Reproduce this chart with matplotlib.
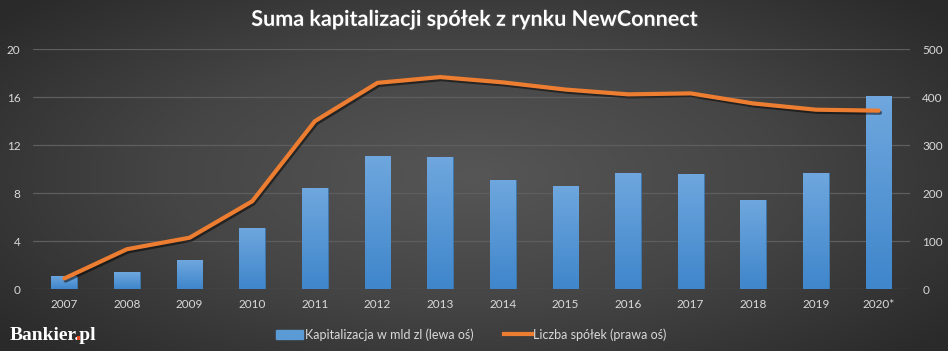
import numpy as np
import matplotlib
matplotlib.use("Agg")
import matplotlib.pyplot as plt
import matplotlib.patheffects as pe
from matplotlib.lines import Line2D
from matplotlib.patches import Patch, Rectangle

plt.rcParams["font.family"] = ["Lato", "DejaVu Sans"]

years = ["2007", "2008", "2009", "2010", "2011", "2012", "2013",
         "2014", "2015", "2016", "2017", "2018", "2019", "2020*"]
kapitalizacja = [1.1, 1.4, 2.4, 5.1, 8.4, 11.1, 11.0,
                 9.1, 8.6, 9.7, 9.6, 7.4, 9.7, 16.1]
liczba_spolek = [22, 83, 107, 183, 350, 430, 442,
                 431, 416, 406, 408, 387, 374, 372]

left_ticks = [0, 4, 8, 12, 16, 20]
right_ticks = [0, 100, 200, 300, 400, 500]

W, H = 948, 351
fig = plt.figure(figsize=(W / 100, H / 100), dpi=100)

# tlo z gradientem
bg = fig.add_axes([0, 0, 1, 1], zorder=-10)
yy, xx = np.mgrid[-1:1:200j, -1:1:400j]
r = np.sqrt((xx * 0.85) ** 2 + (yy * 0.75) ** 2)
bg.imshow(r, cmap=matplotlib.colors.LinearSegmentedColormap.from_list(
    "bg", ["#565656", "#454545", "#2a2a2a"]), aspect="auto",
    extent=[0, 1, 0, 1], vmin=0, vmax=1.1)
bg.axis("off")

ax = fig.add_axes([0.0348, 0.1766, 0.925, 0.683])
ax.set_facecolor("none")
x = np.arange(len(years))

bars = ax.bar(x, kapitalizacja, width=0.41, color="#5b9bd5",
              edgecolor="#3c78b0", linewidth=0.6, zorder=3)
grad = np.linspace(1, 0, 100).reshape(-1, 1)
cmap_bar = matplotlib.colors.LinearSegmentedColormap.from_list(
    "bar", ["#3f86cb", "#6fa7de"])
for b in bars:
    bx, by = b.get_x(), b.get_y()
    im = ax.imshow(grad, cmap=cmap_bar, aspect="auto", zorder=3.5,
                   extent=[bx, bx + b.get_width(), by, by + b.get_height()])
    im.set_clip_path(b)

ax.set_xlim(-0.5, len(years) - 0.5)
ax.set_ylim(0, 20)
ax.set_yticks(left_ticks)
ax.set_xticks(x)
ax.set_xticklabels(years)
ax.grid(axis="y", color="#5e5e5e", linewidth=0.9, zorder=0)
for s in ax.spines.values():
    s.set_visible(False)
ax.tick_params(colors="#d9d9d9", labelsize=8.5, length=0)
ax.tick_params(axis="y", pad=9)
ax.tick_params(axis="x", pad=7)

ax2 = ax.twinx()
ax2.set_ylim(0, 500)
ax2.set_yticks(right_ticks)
ax2.plot(x, liczba_spolek, color="#ed7d31", linewidth=3.0,
         solid_capstyle="round", zorder=5,
         path_effects=[pe.SimpleLineShadow(offset=(1, -1.5), alpha=0.5),
                       pe.Normal()])
for s in ax2.spines.values():
    s.set_visible(False)
ax2.tick_params(colors="#d9d9d9", labelsize=8.5, length=0, pad=9)

fig.text(0.5, 0.945, "Suma kapitalizacji spółek z rynku NewConnect",
         ha="center", va="center", color="white", fontsize=15.5,
         fontweight="bold",
         path_effects=[pe.withSimplePatchShadow(offset=(1, -1), alpha=0.8)])

handles = [Patch(facecolor="#5b9bd5", edgecolor="#5b9bd5"),
           Line2D([0], [0], color="#ed7d31", linewidth=3)]
fig.legend(handles, ["Kapitalizacja w mld zl (lewa oś)",
                     "Liczba spółek (prawa oś)"],
           loc="center", bbox_to_anchor=(0.497, 0.047), ncol=2, frameon=False,
           fontsize=9, labelcolor="#d9d9d9", handlelength=2.2,
           handletextpad=0.1, columnspacing=2.5)

# logo Bankier.pl, kropka na pomaranczowo
logo_kw = dict(fontsize=14, fontweight="bold", family="Liberation Serif",
               va="baseline", ha="left")
lx, ly = 10, 11
fig.text(lx / W, ly / H, "Bankier.pl", color="white", **logo_kw)
renderer = fig.canvas.get_renderer()
tmp = fig.text(lx / W, ly / H, "Bankier.", **logo_kw)
w_dot = tmp.get_window_extent(renderer).width
tmp.remove()
dot = 3.6
fig.patches.append(Rectangle(((lx + w_dot - dot) / W, ly / H),
                             dot / W, dot / H, transform=fig.transFigure,
                             facecolor="#e8491d", edgecolor="none",
                             zorder=5))

fig.savefig("out.png", dpi=100)
